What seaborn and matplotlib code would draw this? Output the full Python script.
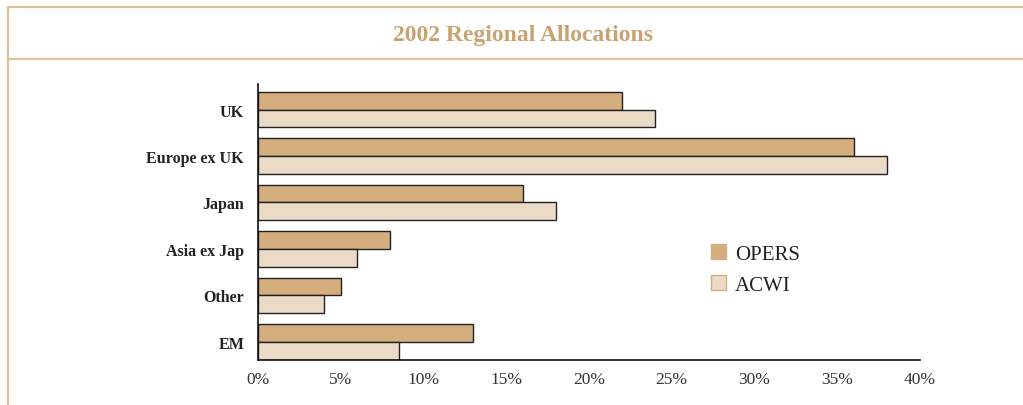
import matplotlib
matplotlib.use('Agg')
import matplotlib.pyplot as plt
from matplotlib.lines import Line2D
from matplotlib.patches import Patch
import pandas as pd
import seaborn as sns

# data
regions = ['UK', 'Europe ex UK', 'Japan', 'Asia ex Jap', 'Other', 'EM']
opers = [22, 36, 16, 8, 5, 13]
acwi = [24, 38, 18, 6, 4, 8.5]
series = ['OPERS', 'ACWI']
xticks = [0, 5, 10, 15, 20, 25, 30, 35, 40]

OPERS_COL = '#D4AE7E'
ACWI_COL = '#EBDBC6'
FRAME_COL = '#DEC39A'
TITLE_COL = '#C8A371'

sns.set_theme(style='white')
plt.rcParams['font.family'] = ['Liberation Serif', 'DejaVu Serif']

df = pd.DataFrame({
    'region': regions * 2,
    'series': [series[0]] * len(regions) + [series[1]] * len(regions),
    'value': opers + acwi,
})

W, H = 1023, 406
fig = plt.figure(figsize=(W / 100, H / 100), dpi=100)
ax = fig.add_axes([258 / W, 1 - 361 / H, (920 - 258) / W, (361 - 85) / H])

sns.barplot(data=df, y='region', x='value', hue='series', order=regions,
            hue_order=series, palette=[OPERS_COL, ACWI_COL], orient='h',
            width=0.76, edgecolor='#222222', linewidth=1.0, saturation=1,
            ax=ax, legend=False)

ax.set_xlim(0, 40)
ax.set_ylim(5.39, -0.55)
ax.set_xticks(xticks)
ax.set_xticklabels([f'{t}%' for t in xticks], fontsize=12.5, color='#333333')
ax.set_yticks(range(len(regions)))
ax.set_yticklabels(regions, fontsize=11.5, fontweight='bold', color='#222222')
ax.set_xlabel('')
ax.set_ylabel('')
ax.tick_params(axis='x', direction='in', length=5, width=1, color='#555555', pad=8)
ax.tick_params(axis='y', length=0, pad=10)
for s in ['top', 'right']:
    ax.spines[s].set_visible(False)
for s in ['left', 'bottom']:
    ax.spines[s].set_color('#111111')
    ax.spines[s].set_linewidth(1.2)

handles = [Patch(facecolor=OPERS_COL, edgecolor=OPERS_COL, label='OPERS'),
           Patch(facecolor=ACWI_COL, edgecolor=OPERS_COL, label='ACWI')]
ax.legend(handles=handles, loc='upper left', bbox_to_anchor=((692 - 258) / (920 - 258), (361 - 226) / 276),
          frameon=False, fontsize=15, handlelength=0.75, handleheight=0.75,
          handletextpad=0.4, labelspacing=0.55, labelcolor='#222222')

# frame lines
def fig_line(x0, y0, x1, y1):
    fig.add_artist(Line2D([x0 / W, x1 / W], [1 - y0 / H, 1 - y1 / H],
                          transform=fig.transFigure, color=FRAME_COL, linewidth=1.6))

fig_line(8, 8, W, 8)
fig_line(8, 8, 8, H)
fig_line(8, 60, W, 60)

fig.text(523 / W, 1 - 36 / H, '2002 Regional Allocations', ha='center', va='center',
         fontsize=17, fontweight='bold', color=TITLE_COL)

fig.savefig('out.png', dpi=100)
